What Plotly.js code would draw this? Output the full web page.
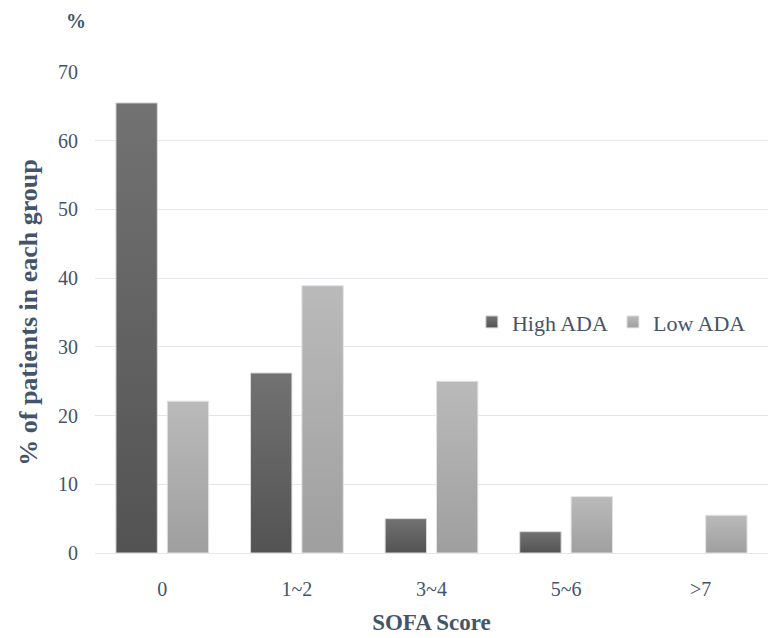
<!DOCTYPE html>
<html>
<head>
<meta charset="utf-8">
<script src="https://cdn.plot.ly/plotly-3.0.1.min.js"></script>
</head>
<body style="margin:0;background:#ffffff">
<div aria-hidden="true" style="position:absolute;left:-2000px;top:0;font-family:'Liberation Serif',serif;font-size:20px">&nbsp;<b>&nbsp;</b></div>
<div id="chart"></div>
<script>
// SOFA score groups and share of patients (%) in each ADA group
const categories = ['0', '1~2', '3~4', '5~6', '>7'];
const highADA = [65.5, 26.2, 5.0, 3.1, 0];
const lowADA = [22.1, 38.9, 25.0, 8.2, 5.5];
const seriesNames = ['High ADA', 'Low ADA'];
const yTicks = [0, 10, 20, 30, 40, 50, 60, 70];

const TEXT = '#44546A';
const SERIF = 'Liberation Serif, serif';

// no outline on empty bars
const outline = function (vals) { return vals.map(function (v) { return v > 0 ? 1 : 0; }); };

const traces = [
  {
    type: 'bar', name: seriesNames[0], x: categories, y: highADA,
    marker: { color: '#626262', line: { color: '#d9d9d9', width: outline(highADA) } },
    hoverinfo: 'skip'
  },
  {
    type: 'bar', name: seriesNames[1], x: categories, y: lowADA,
    marker: { color: '#adadad', line: { color: '#e3e3e3', width: outline(lowADA) } },
    hoverinfo: 'skip'
  }
];

const layout = {
  width: 768, height: 638,
  margin: { l: 95, r: 0, t: 72, b: 85 },
  paper_bgcolor: '#ffffff', plot_bgcolor: '#ffffff',
  font: { family: SERIF, color: TEXT, size: 18 },
  barmode: 'group', bargap: 0.237, bargroupgap: 0.194,
  showlegend: true,
  legend: {
    orientation: 'h', x: 0.56, y: 0.48, xanchor: 'left', yanchor: 'middle',
    font: { family: SERIF, size: 22, color: TEXT },
    bgcolor: 'rgba(0,0,0,0)', traceorder: 'normal',
    itemwidth: 30, tracegroupgap: 0
  },
  xaxis: {
    type: 'category', range: [-0.5, 4.5], fixedrange: true,
    showgrid: false, zeroline: false, showline: false, ticks: '',
    tickfont: { family: SERIF, size: 20, color: TEXT },
    ticklabelstandoff: 22,
    title: { text: '<b>SOFA Score</b>', font: { family: SERIF, size: 23, color: TEXT }, standoff: 14 }
  },
  yaxis: {
    range: [0, 70], tickvals: yTicks, fixedrange: true,
    showgrid: true, gridcolor: '#e4e6eb', gridwidth: 1,
    zeroline: true, zerolinecolor: '#e4e6eb', zerolinewidth: 1,
    showline: false, ticks: '',
    tickfont: { family: SERIF, size: 20, color: TEXT },
    ticklabelstandoff: 16,
    title: { text: '<b>% of patients in each group</b>', font: { family: SERIF, size: 26, color: TEXT }, standoff: 12 }
  },
  annotations: [
    {
      text: '<b>%</b>', xref: 'paper', yref: 'paper', x: -0.011, y: 1.105,
      xanchor: 'right', yanchor: 'middle', showarrow: false,
      font: { family: SERIF, size: 20, color: TEXT }
    }
  ]
};

// Vertical shading for each bar: lighter at the top, darker at the base
function shadeBars(gd) {
  const svg = gd.querySelector('svg.main-svg');
  if (!svg) return;
  const NS = 'http://www.w3.org/2000/svg';
  let defs = svg.querySelector('defs#barShades');
  if (!defs) {
    defs = document.createElementNS(NS, 'defs');
    defs.setAttribute('id', 'barShades');
    const stops = {
      shadeHigh: ['#727272', '#535353'],
      shadeLow: ['#bababa', '#9f9f9f']
    };
    Object.keys(stops).forEach(function (id) {
      const g = document.createElementNS(NS, 'linearGradient');
      g.setAttribute('id', id);
      g.setAttribute('x1', '0'); g.setAttribute('y1', '0');
      g.setAttribute('x2', '0'); g.setAttribute('y2', '1');
      [[0, stops[id][0]], [1, stops[id][1]]].forEach(function (s) {
        const st = document.createElementNS(NS, 'stop');
        st.setAttribute('offset', s[0]);
        st.setAttribute('stop-color', s[1]);
        g.appendChild(st);
      });
      defs.appendChild(g);
    });
    svg.appendChild(defs);
  }
  const ids = ['shadeHigh', 'shadeLow'];
  gd.querySelectorAll('.barlayer .trace').forEach(function (tr, i) {
    tr.querySelectorAll('path').forEach(function (p) {
      p.style.fill = 'url(#' + ids[i] + ')';
    });
  });
  gd.querySelectorAll('.legend .traces').forEach(function (tr, i) {
    tr.querySelectorAll('.legendpoints path').forEach(function (p) {
      p.style.fill = 'url(#' + ids[i] + ')';
    });
  });
  // settle text styles so the serif face is applied
  gd.querySelectorAll('svg text').forEach(function (t) { void getComputedStyle(t).fontFamily; });
}

const gd = document.getElementById('chart');
const config = { staticPlot: true, displayModeBar: false };

function draw() {
  return Plotly.newPlot(gd, traces, layout, config).then(function () { shadeBars(gd); });
}

draw();

if (document.fonts && document.fonts.load) {
  Promise.all([
    document.fonts.load('20px "Liberation Serif"'),
    document.fonts.load('bold 20px "Liberation Serif"')
  ]).then(draw, function () {});
}
</script>
</body>
</html>
